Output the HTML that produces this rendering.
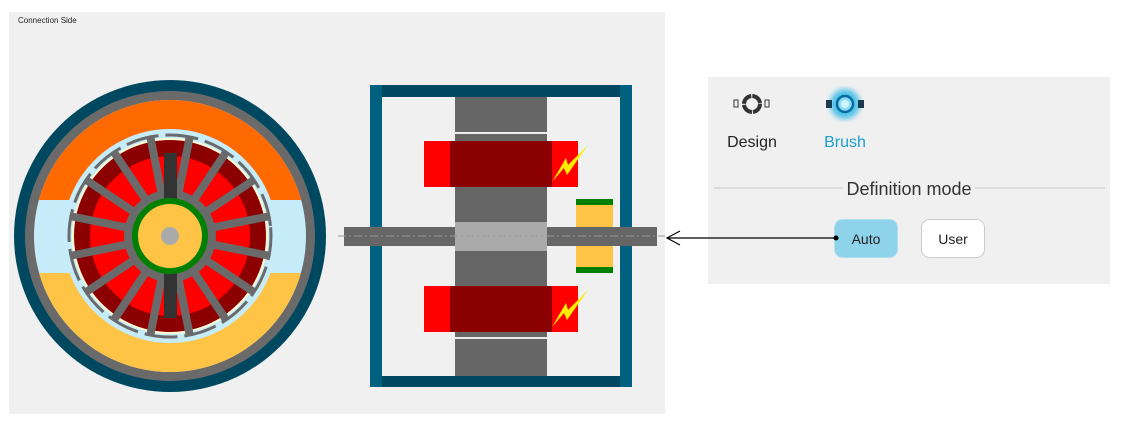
<!DOCTYPE html>
<html><head><style>
body{margin:0;width:1125px;height:426px;background:#fff;position:relative;overflow:hidden;font-family:"Liberation Sans",sans-serif}
</style></head><body>
<svg width="1125" height="426" style="position:absolute;left:0;top:0">
<defs>
<clipPath id="top"><rect x="0" y="0" width="400" height="200"/></clipPath>
<clipPath id="bot"><rect x="0" y="273" width="400" height="200"/></clipPath>
<filter id="glow"><feGaussianBlur stdDeviation="3"/></filter>
</defs>
<rect x="9" y="12" width="656" height="402" fill="#f0f0f0"/>
<text x="18" y="23" font-size="8" fill="#222">Connection Side</text>
<!-- motor -->
<circle cx="170" cy="236" r="156" fill="#004860"/>
<circle cx="170" cy="236" r="145" fill="#6a6a6a"/>
<circle cx="170" cy="236" r="136" fill="#c6ecfa"/>
<circle cx="170" cy="236" r="136" fill="#ff6a00" clip-path="url(#top)"/>
<circle cx="170" cy="236" r="136" fill="#ffc445" clip-path="url(#bot)"/>
<circle cx="170" cy="236" r="107" fill="#c6ecfa"/>
<circle cx="170" cy="236" r="101" fill="none" stroke="#6a6a6a" stroke-width="3" stroke-dasharray="33 7" transform="rotate(-5 170 236)"/>
<circle cx="170" cy="236" r="98" fill="#fff8d0"/>
<circle cx="170" cy="236" r="96" fill="#8b0000"/>
<circle cx="170" cy="236" r="80" fill="#ff0000"/>
<g stroke="#6a6a6a" stroke-width="8">
<line x1="170" y1="236" x2="170" y2="136" transform="rotate(11.25 170 236)"/>
<line x1="170" y1="236" x2="170" y2="136" transform="rotate(33.75 170 236)"/>
<line x1="170" y1="236" x2="170" y2="136" transform="rotate(56.25 170 236)"/>
<line x1="170" y1="236" x2="170" y2="136" transform="rotate(78.75 170 236)"/>
<line x1="170" y1="236" x2="170" y2="136" transform="rotate(101.25 170 236)"/>
<line x1="170" y1="236" x2="170" y2="136" transform="rotate(123.75 170 236)"/>
<line x1="170" y1="236" x2="170" y2="136" transform="rotate(146.25 170 236)"/>
<line x1="170" y1="236" x2="170" y2="136" transform="rotate(168.75 170 236)"/>
<line x1="170" y1="236" x2="170" y2="136" transform="rotate(191.25 170 236)"/>
<line x1="170" y1="236" x2="170" y2="136" transform="rotate(213.75 170 236)"/>
<line x1="170" y1="236" x2="170" y2="136" transform="rotate(236.25 170 236)"/>
<line x1="170" y1="236" x2="170" y2="136" transform="rotate(258.75 170 236)"/>
<line x1="170" y1="236" x2="170" y2="136" transform="rotate(281.25 170 236)"/>
<line x1="170" y1="236" x2="170" y2="136" transform="rotate(303.75 170 236)"/>
<line x1="170" y1="236" x2="170" y2="136" transform="rotate(326.25 170 236)"/>
<line x1="170" y1="236" x2="170" y2="136" transform="rotate(348.75 170 236)"/>
</g>
<circle cx="170" cy="236" r="46" fill="#6a6a6a"/>
<rect x="164" y="153" width="13" height="165" fill="#333"/>
<circle cx="170" cy="236" r="35" fill="#ffc445" stroke="#008000" stroke-width="6"/>
<circle cx="170" cy="236" r="9" fill="#aaa"/>
<!-- cross section -->
<rect x="370" y="85" width="262" height="302" fill="#00475f"/>
<rect x="382" y="97" width="238" height="279" fill="#f0f0f0"/>
<rect x="370" y="85" width="12" height="302" fill="#006080"/>
<rect x="620" y="85" width="12" height="302" fill="#006080"/>
<rect x="455" y="97" width="92" height="279" fill="#666"/>
<rect x="455" y="132" width="92" height="2" fill="#eee"/>
<rect x="455" y="337" width="92" height="2" fill="#eee"/>
<rect x="424" y="141" width="154" height="46" fill="#f00"/>
<rect x="450" y="141" width="102" height="46" fill="#8b0000"/>
<rect x="424" y="286" width="154" height="46" fill="#f00"/>
<rect x="450" y="286" width="102" height="46" fill="#8b0000"/>
<polygon points="588,145 568,165 566,158 552,182 564,168 567,175" fill="#ffee00"/>
<polygon points="588,290 568,310 566,303 552,327 564,313 567,320" fill="#ffee00"/>
<rect x="576" y="199" width="37" height="74" fill="#ffc445"/>
<rect x="576" y="199" width="37" height="6" fill="#008000"/>
<rect x="576" y="267" width="37" height="6" fill="#008000"/>
<rect x="344" y="227" width="313" height="19" fill="#666"/>
<rect x="455" y="222" width="92" height="29" fill="#aaa"/>
<line x1="338" y1="236" x2="665" y2="236" stroke="#999" stroke-width="1" stroke-dasharray="8 3 2 3"/>
<!-- right panel -->
<rect x="708" y="77" width="402" height="207" fill="#f0f0f0"/>
<line x1="714" y1="188" x2="843" y2="188" stroke="#c8c8c8"/>
<line x1="975" y1="188" x2="1105" y2="188" stroke="#c8c8c8"/>
<text x="909" y="195" font-size="18" fill="#333" text-anchor="middle">Definition mode</text>
<!-- design icon -->
<rect x="734" y="100" width="4" height="7" fill="none" stroke="#333" stroke-width="1"/>
<rect x="765" y="100" width="4" height="7" fill="none" stroke="#333" stroke-width="1"/>
<circle cx="752" cy="104" r="8" fill="none" stroke="#333" stroke-width="4" stroke-dasharray="11.5 1.1"/>
<text x="752" y="147" font-size="16" fill="#222" text-anchor="middle">Design</text>
<!-- brush icon -->
<circle cx="845" cy="104" r="15" fill="#30b8e8" filter="url(#glow)" opacity="0.85"/>
<rect x="826" y="100" width="6" height="8" fill="#1a3a50"/>
<rect x="858" y="100" width="6" height="8" fill="#1a3a50"/>
<circle cx="845" cy="104" r="8" fill="#8adcf6" stroke="#0a6aa0" stroke-width="2.5"/>
<circle cx="845" cy="104" r="4" fill="#cff3ff"/>
<text x="845" y="147" font-size="16" fill="#1a9fcf" text-anchor="middle">Brush</text>
<rect x="834.5" y="219.5" width="63" height="38" rx="8" fill="#8fd3ea" stroke="#b0dfee"/>
<text x="866" y="244" font-size="14" fill="#222" text-anchor="middle">Auto</text>
<rect x="921.5" y="219.5" width="63" height="38" rx="8" fill="#fff" stroke="#ccc"/>
<text x="953" y="244" font-size="14" fill="#222" text-anchor="middle">User</text>
<!-- arrow -->
<line x1="836" y1="238" x2="667" y2="238" stroke="#000" stroke-width="1.2"/>
<polyline points="680,231 667,238 680,245" fill="none" stroke="#000" stroke-width="1.2"/>
<circle cx="836" cy="238" r="2.5" fill="#000"/>
</svg>
</body></html>
